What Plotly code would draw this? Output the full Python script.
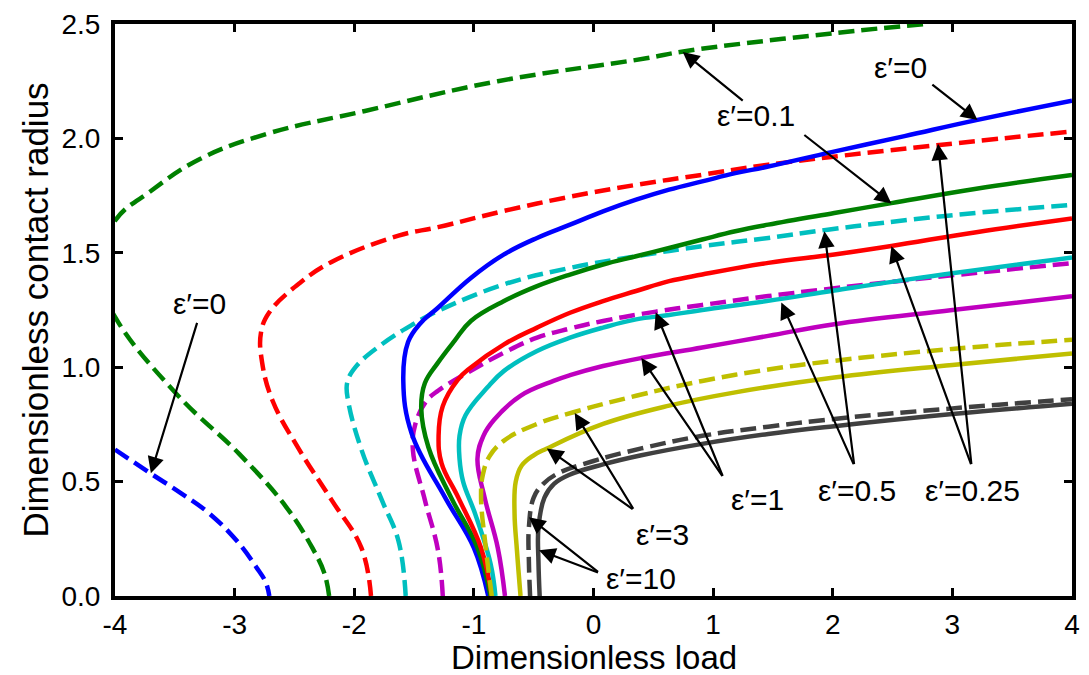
import plotly.graph_objects as go

# ---------------- data ----------------
blue_dash_x = [-4.0, -3.70, -3.45, -3.21, -2.98, -2.82, -2.74, -2.71]
blue_dash_y = [0.64, 0.535, 0.45, 0.36, 0.24, 0.127, 0.06, 0.0]

green_dash_x = [-2.21, -2.25, -2.35, -2.57, -2.96, -3.48, -4.0, -4.15, -4.0, -3.70, -3.29, -2.73, -1.91, -0.80, 0.44, 0.75, 2.01, 2.78]
green_dash_y = [0.0, 0.10, 0.21, 0.39, 0.62, 0.88, 1.22, 1.42, 1.64, 1.77, 1.91, 2.02, 2.12, 2.25, 2.35, 2.38, 2.46, 2.50]

red_dash_x = [-1.86, -1.94, -2.19, -2.46, -2.68, -2.77, -2.78, -2.71, -2.45, -2.19, -1.63, -1.30, -0.748, -0.196, 0.356, 0.909, 1.461, 2.87, 4.0]
red_dash_y = [0.0, 0.21, 0.42, 0.64, 0.85, 1.02, 1.15, 1.24, 1.37, 1.46, 1.575, 1.612, 1.683, 1.745, 1.797, 1.841, 1.885, 1.97, 2.03]

cyan_dash_x = [-1.57, -1.63, -1.77, -1.94, -2.05, -2.06, -1.99, -1.77, -1.50, -1.30, -0.748, -0.196, 0.356, 0.909, 1.461, 1.958, 2.92, 4.0]
cyan_dash_y = [0.0, 0.24, 0.42, 0.64, 0.85, 0.93, 1.00, 1.10, 1.19, 1.246, 1.362, 1.434, 1.485, 1.529, 1.565, 1.601, 1.66, 1.71]

magenta_dash_x = [-1.26, -1.30, -1.41, -1.51, -1.49, -1.40, -1.30, -1.025, -0.748, -0.472, -0.196, 0.08, 0.522, 0.909, 1.461, 1.93, 2.7, 4.0]
magenta_dash_y = [0.0, 0.20, 0.42, 0.64, 0.75, 0.85, 0.897, 0.984, 1.064, 1.129, 1.169, 1.202, 1.243, 1.272, 1.311, 1.340, 1.385, 1.455]

yellow_dash_x = [-0.85, -0.88, -0.90, -0.94, -0.925, -0.87, -0.748, -0.472, -0.168, 0.356, 0.909, 1.461, 2.013, 3.0, 4.0]
yellow_dash_y = [0.0, 0.12, 0.21, 0.43, 0.53, 0.61, 0.679, 0.752, 0.803, 0.875, 0.94, 0.99, 1.028, 1.08, 1.12]

gray_dash_x = [-0.53, -0.54, -0.54, -0.50, -0.42, -0.30, 0.0, 0.4, 0.909, 1.461, 2.013, 3.0, 4.0]
gray_dash_y = [0.0, 0.15, 0.30, 0.43, 0.49, 0.535, 0.59, 0.645, 0.70, 0.74, 0.774, 0.82, 0.86]

blue_solid_x = [-0.88, -1.0, -1.24, -1.52, -1.59, -1.55, -1.45, -1.30, -1.025, -0.748, -0.472, -0.196, 0.080, 0.356, 0.632, 0.909, 1.185, 1.461, 1.99, 2.6, 3.2, 4.0]
blue_solid_y = [0.0, 0.21, 0.43, 0.71, 0.94, 1.11, 1.19, 1.26, 1.39, 1.493, 1.565, 1.623, 1.681, 1.732, 1.776, 1.812, 1.848, 1.877, 1.94, 2.01, 2.08, 2.165]

green_solid_x = [-0.86, -0.97, -1.19, -1.38, -1.44, -1.41, -1.30, -1.162, -1.025, -0.748, -0.472, -0.196, 0.080, 0.356, 0.632, 0.909, 1.185, 1.461, 2.013, 2.49, 3.2, 4.0]
green_solid_y = [0.0, 0.21, 0.43, 0.65, 0.82, 0.93, 1.02, 1.115, 1.202, 1.289, 1.354, 1.405, 1.449, 1.485, 1.521, 1.558, 1.594, 1.623, 1.674, 1.717, 1.78, 1.84]

red_solid_x = [-0.85, -0.94, -1.13, -1.27, -1.295, -1.26, -1.135, -1.025, -0.748, -0.472, -0.196, 0.080, 0.356, 0.632, 0.909, 1.461, 2.013, 2.49, 3.2, 4.0]
red_solid_y = [0.0, 0.21, 0.43, 0.58, 0.70, 0.83, 0.945, 0.999, 1.10, 1.173, 1.238, 1.289, 1.333, 1.376, 1.405, 1.456, 1.493, 1.53, 1.59, 1.65]

cyan_solid_x = [-0.82, -0.86, -0.99, -1.09, -1.12, -1.12, -1.07, -0.886, -0.748, -0.472, -0.196, 0.080, 0.356, 0.632, 0.909, 1.461, 2.013, 2.65, 4.0]
cyan_solid_y = [0.0, 0.14, 0.36, 0.50, 0.60, 0.70, 0.79, 0.912, 0.984, 1.071, 1.129, 1.173, 1.209, 1.228, 1.25, 1.29, 1.335, 1.385, 1.48]

magenta_solid_x = [-0.74, -0.80, -0.91, -0.97, -0.92, -0.831, -0.611, -0.334, -0.196, 0.08, 0.398, 0.909, 1.461, 2.013, 3.0, 4.0]
magenta_solid_y = [0.0, 0.21, 0.43, 0.60, 0.70, 0.77, 0.875, 0.94, 0.965, 1.005, 1.04, 1.086, 1.137, 1.188, 1.25, 1.31]

yellow_solid_x = [-0.61, -0.64, -0.66, -0.65, -0.60, -0.50, -0.389, 0.08, 0.632, 1.185, 2.013, 3.0, 4.0]
yellow_solid_y = [0.0, 0.20, 0.36, 0.50, 0.57, 0.615, 0.645, 0.752, 0.832, 0.89, 0.955, 1.01, 1.06]

gray_solid_x = [-0.45, -0.46, -0.46, -0.41, -0.33, -0.20, 0.08, 0.4, 0.909, 1.461, 2.013, 3.0, 4.0]
gray_solid_y = [0.0, 0.15, 0.30, 0.43, 0.49, 0.53, 0.575, 0.615, 0.665, 0.708, 0.742, 0.795, 0.84]

x_ticks = [-4, -3, -2, -1, 0, 1, 2, 3, 4]
x_tick_text = ["-4", "-3", "-2", "-1", "0", "1", "2", "3", "4"]
y_ticks = [0.0, 0.5, 1.0, 1.5, 2.0, 2.5]
y_tick_text = ["0.0", "0.5", "1.0", "1.5", "2.0", "2.5"]

x_title = "Dimensionless load"
y_title = "Dimensionless contact radius"

# label text, label position, and arrows (tail -> head)
labels = [
    ("ε′=0", (-3.29, 1.28), [((-3.31, 1.20), (-3.70, 0.536))]),
    ("ε′=0.1", (1.36, 2.10), [((1.26, 2.16), (0.746, 2.378)), ((1.75, 2.02), (2.49, 1.716))]),
    ("ε′=0", (2.57, 2.31), [((2.82, 2.24), (3.21, 2.08))]),
    ("ε′=0.25", (3.17, 0.46), [((3.16, 0.57), (2.88, 1.977)), ((3.16, 0.57), (2.49, 1.529))]),
    ("ε′=0.5", (2.20, 0.46), [((2.18, 0.57), (1.93, 1.594)), ((2.18, 0.57), (1.57, 1.283))]),
    ("ε′=1", (1.37, 0.42), [((1.085, 0.518), (0.52, 1.24)), ((1.085, 0.518), (0.40, 1.04))]),
    ("ε′=3", (0.58, 0.27), [((0.34, 0.375), (-0.157, 0.80)), ((0.34, 0.375), (-0.39, 0.645))]),
    ("ε′=10", (0.40, 0.075), [((0.05, 0.10), (-0.54, 0.344)), ((0.05, 0.10), (-0.456, 0.20))]),
]

# ---------------- figure ----------------
BLUE, GREEN, RED = "#0000ff", "#008000", "#ff0000"
CYAN, MAGENTA, YELLOW, GRAY = "#00bfbf", "#bf00bf", "#bfbf00", "#404040"
DASH = "16px,7px"
LW = 4.5

series = [
    (blue_dash_x, blue_dash_y, BLUE, DASH),
    (green_dash_x, green_dash_y, GREEN, DASH),
    (red_dash_x, red_dash_y, RED, DASH),
    (cyan_dash_x, cyan_dash_y, CYAN, DASH),
    (magenta_dash_x, magenta_dash_y, MAGENTA, DASH),
    (blue_solid_x, blue_solid_y, BLUE, "solid"),
    (green_solid_x, green_solid_y, GREEN, "solid"),
    (red_solid_x, red_solid_y, RED, "solid"),
    (cyan_solid_x, cyan_solid_y, CYAN, "solid"),
    (magenta_solid_x, magenta_solid_y, MAGENTA, "solid"),
    (yellow_dash_x, yellow_dash_y, YELLOW, DASH),
    (yellow_solid_x, yellow_solid_y, YELLOW, "solid"),
    (gray_dash_x, gray_dash_y, GRAY, DASH),
    (gray_solid_x, gray_solid_y, GRAY, "solid"),
]

fig = go.Figure()
for xs, ys, col, dash in series:
    fig.add_trace(go.Scatter(
        x=xs, y=ys, mode="lines",
        line=dict(color=col, width=LW, dash=dash, shape="spline", smoothing=1.15),
        showlegend=False, hoverinfo="skip",
    ))

FONT = "Liberation Sans, Arial, sans-serif"
annotations = []
for text, (tx, ty), arrows in labels:
    annotations.append(dict(x=tx, y=ty, xref="x", yref="y", text=text, showarrow=False,
                            font=dict(size=30, color="black", family=FONT),
                            xanchor="center", yanchor="middle"))
    for (ax, ay), (hx, hy) in arrows:
        annotations.append(dict(x=hx, y=hy, xref="x", yref="y", ax=ax, ay=ay,
                                axref="x", ayref="y", text="", showarrow=True,
                                arrowhead=2, arrowsize=1.5, arrowwidth=2.2,
                                arrowcolor="black", standoff=0, startstandoff=0))

# x-axis title placed as a paper-referenced text close under the tick labels
annotations.append(dict(x=0.5, y=-0.108, xref="paper", yref="paper", text=x_title,
                        showarrow=False, xanchor="center", yanchor="middle",
                        font=dict(size=33, color="black", family=FONT)))

fig.update_layout(
    width=1089, height=675,
    margin=dict(l=115, r=9, t=22, b=79),
    paper_bgcolor="white", plot_bgcolor="white",
    font=dict(family=FONT, color="black"),
    annotations=annotations,
    xaxis=dict(range=[-4, 4], tickvals=x_ticks, ticktext=x_tick_text, ticks="inside", ticklen=8, tickwidth=3,
               tickcolor="black", showline=True, linewidth=4, linecolor="black",
               mirror="ticks", showgrid=False, zeroline=False,
               tickfont=dict(size=28, family=FONT)),
    yaxis=dict(range=[0, 2.5], tickvals=y_ticks, ticktext=y_tick_text, ticks="inside", ticklen=8,
               tickwidth=3, tickcolor="black", showline=True, linewidth=4, linecolor="black",
               mirror="ticks", showgrid=False, zeroline=False, ticklabelstandoff=5,
               tickfont=dict(size=28, family=FONT),
               title=dict(text=y_title, font=dict(size=35, family=FONT), standoff=3)),
)

fig.write_html("out.html", config={"displayModeBar": False},
               post_script="document.body.style.margin='0';")
